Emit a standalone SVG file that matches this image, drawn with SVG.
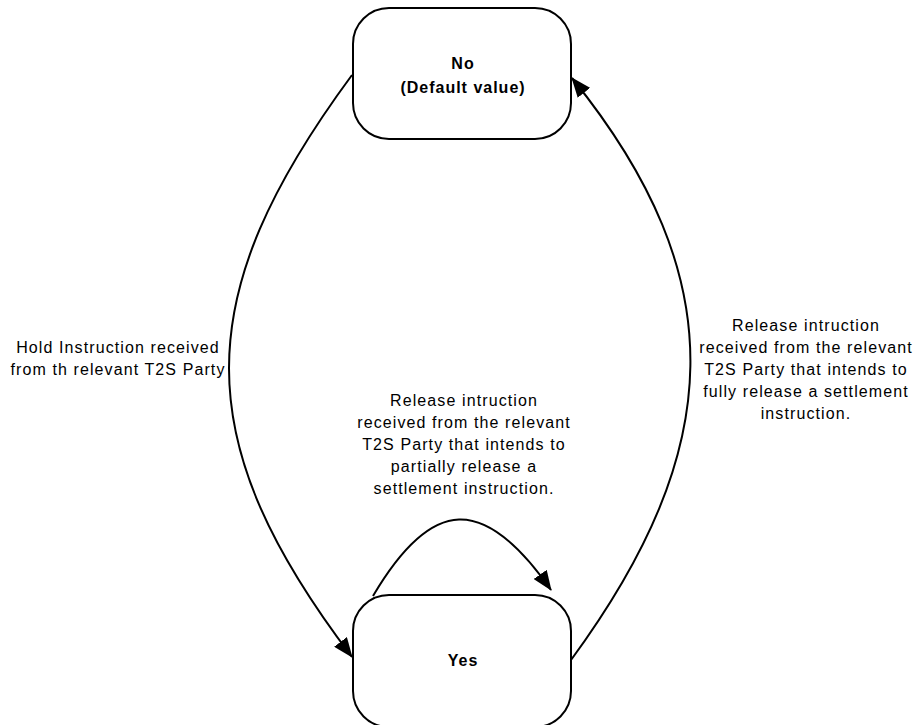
<svg xmlns="http://www.w3.org/2000/svg" width="914" height="725" viewBox="0 0 914 725">
<style>
.node rect{fill:#fff;stroke:#000;stroke-width:2}
.node text{font-family:"Liberation Sans",Arial,sans-serif;font-size:16px;font-weight:bold;fill:#000;text-anchor:middle;letter-spacing:1px}
.edge{fill:none;stroke:#000;stroke-width:2;marker-end:url(#arr)}
.lbl{font-family:"Liberation Sans",Arial,sans-serif;font-size:16px;fill:#000;text-anchor:middle;letter-spacing:1.1px}
</style>
<defs>
<marker id="arr" markerUnits="userSpaceOnUse" markerWidth="20" markerHeight="16" viewBox="0 0 20 16" refX="19" refY="8" orient="auto">
<path d="M0,0 L20,8 L0,16 Z" fill="#000"/>
</marker>
</defs>
<rect width="914" height="725" fill="#fff"/>
<g id="connectors">
<path class="edge" d="M352,75 C188,297 188,441 352,657"/>
<path class="edge" d="M571,660 C725,450 735,280 572,78"/>
<path class="edge" d="M373,596 C432,496 484,494 551,590"/>
</g>
<g id="node-no" class="node">
<rect x="353" y="8" width="218" height="131" rx="36" ry="36"/>
<text x="463" y="69">No</text>
<text x="463" y="93">(Default value)</text>
</g>
<g id="node-yes" class="node">
<rect x="353" y="595" width="218" height="132" rx="36" ry="36"/>
<text x="463" y="666">Yes</text>
</g>
<g id="labels">
<text class="lbl" x="118" y="353">Hold Instruction received</text>
<text class="lbl" x="118" y="375">from th relevant T2S Party</text>
<text class="lbl" x="806" y="331">Release intruction</text>
<text class="lbl" x="806" y="353">received from the relevant</text>
<text class="lbl" x="806" y="375">T2S Party that intends to</text>
<text class="lbl" x="806" y="397">fully release a settlement</text>
<text class="lbl" x="806" y="419">instruction.</text>
<text class="lbl" x="464" y="406">Release intruction</text>
<text class="lbl" x="464" y="428">received from the relevant</text>
<text class="lbl" x="464" y="450">T2S Party that intends to</text>
<text class="lbl" x="464" y="472">partially release a</text>
<text class="lbl" x="464" y="494">settlement instruction.</text>
</g>
</svg>
